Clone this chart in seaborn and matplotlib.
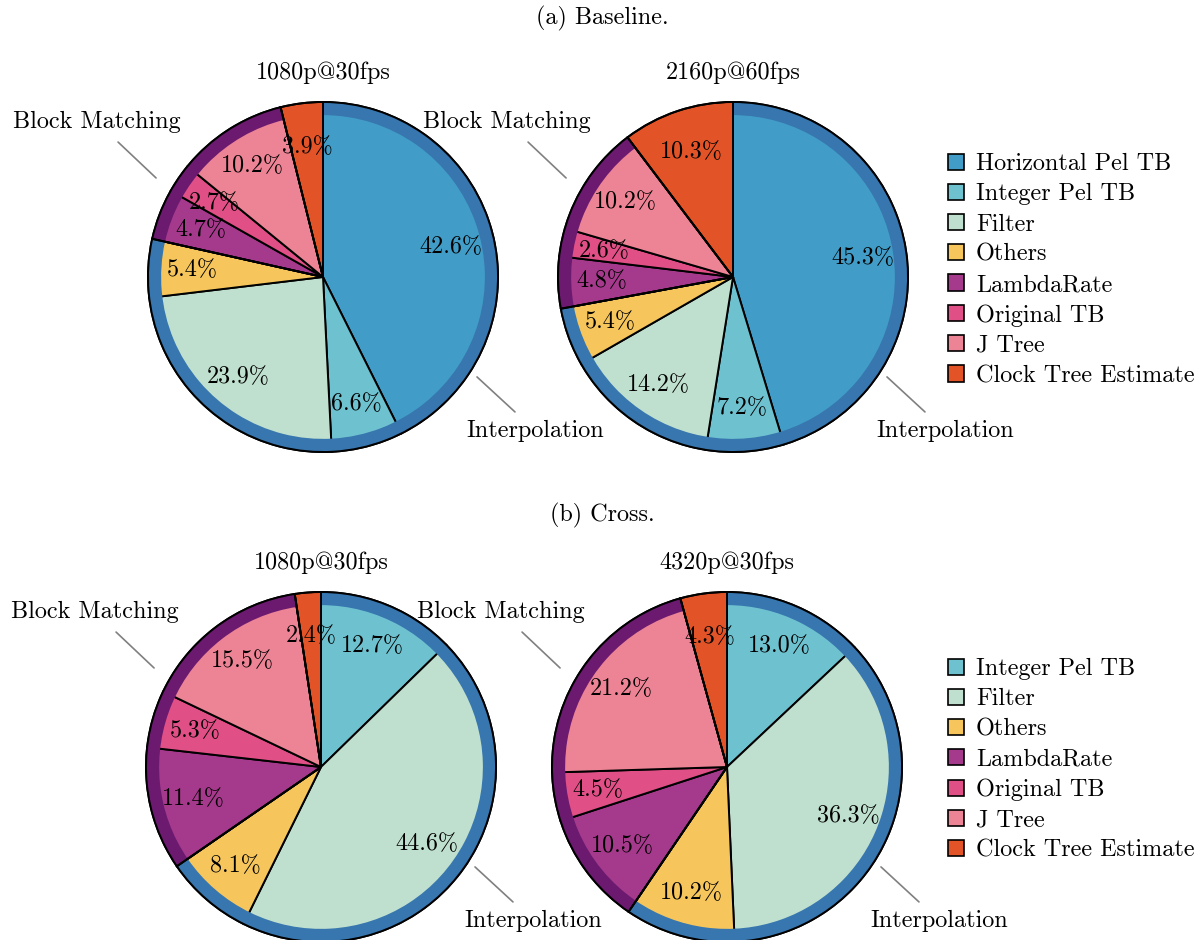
import numpy as np
import matplotlib
matplotlib.use("Agg")
import matplotlib.pyplot as plt
from matplotlib.patches import Patch
import seaborn as sns

# Stage names and their fill colours
categories = ["Horizontal Pel TB", "Integer Pel TB", "Filter", "Others",
              "LambdaRate", "Original TB", "J Tree", "Clock Tree Estimate"]
category_colors = ["#419dc8", "#6ec2d0", "#c0e0cf", "#f6c65c",
                   "#a5398b", "#e04f85", "#ed8495", "#e25428"]

# Outer ring groups
interpolation_members = ["Horizontal Pel TB", "Integer Pel TB", "Filter", "Others"]
block_matching_members = ["LambdaRate", "Original TB", "J Tree"]
ring_colors = {"Interpolation": "#3776ae", "Block Matching": "#6b1a6f"}

# (a) Baseline
baseline_categories = categories
baseline_1080p30 = [42.6, 6.6, 23.9, 5.4, 4.7, 2.7, 10.2, 3.9]
baseline_2160p60 = [45.3, 7.2, 14.2, 5.4, 4.8, 2.6, 10.2, 10.3]

# (b) Cross
cross_categories = categories[1:]
cross_1080p30 = [12.7, 44.6, 8.1, 11.4, 5.3, 15.5, 2.4]
cross_4320p30 = [13.0, 36.3, 10.2, 10.5, 4.5, 21.2, 4.3]

sns.set_theme(style="white")
plt.rcParams["font.family"] = ["cmr10", "DejaVu Serif"]
plt.rcParams["axes.formatter.use_mathtext"] = True
plt.rcParams["mathtext.fontset"] = "cm"
plt.rcParams["text.color"] = "black"

FS = 17.4
W, H = 1204, 940
R_PX = 175
fig = plt.figure(figsize=(W / 100, H / 100), dpi=100)
color_of = dict(zip(categories, category_colors))


def make_axes(cx, cy):
    half = 1.5 * R_PX
    return fig.add_axes([(cx - half) / W, (H - cy - half) / H, 2 * half / W, 2 * half / H])


def draw_pie(ax, cats, vals, title):
    vals = np.asarray(vals, dtype=float)
    cols = [color_of[c] for c in cats]
    # inner slices
    ax.pie(vals, colors=cols, startangle=90, counterclock=False, radius=1.0,
           autopct="%.1f%%", pctdistance=0.75,
           textprops=dict(fontsize=FS, color="black"),
           wedgeprops=dict(edgecolor="black", linewidth=1.4))
    # grouped outer ring
    interp = vals[[cats.index(c) for c in cats if c in interpolation_members]].sum()
    bm = vals[[cats.index(c) for c in cats if c in block_matching_members]].sum()
    rest = vals.sum() - interp - bm
    ring_vals = [interp, bm, rest]
    ax.pie(ring_vals, colors=[ring_colors["Interpolation"], ring_colors["Block Matching"], "none"],
           startangle=90, counterclock=False, radius=1.0,
           wedgeprops=dict(width=0.075, edgecolor="none", linewidth=0))
    ax.pie(ring_vals, colors=["none"] * 3, startangle=90, counterclock=False, radius=1.0,
           wedgeprops=dict(fill=False, edgecolor="black", linewidth=1.4))
    # group callouts
    ax.plot([-0.954, -1.171], [0.566, 0.771], color="0.5", lw=1.2, clip_on=False)
    ax.text(-1.29, 0.886, "Block Matching", ha="center", va="center", fontsize=FS)
    ax.plot([0.88, 1.097], [-0.571, -0.771], color="0.5", lw=1.2, clip_on=False)
    ax.text(1.21, -0.88, "Interpolation", ha="center", va="center", fontsize=FS)
    ax.text(0, 1.17, title, ha="center", va="center", fontsize=FS)
    ax.set_xlim(-1.5, 1.5)
    ax.set_ylim(-1.5, 1.5)
    ax.set_aspect("equal")
    ax.axis("off")


draw_pie(make_axes(323, 277), baseline_categories, baseline_1080p30, "1080p@30fps")
draw_pie(make_axes(733, 277), baseline_categories, baseline_2160p60, "2160p@60fps")
draw_pie(make_axes(321, 767), cross_categories, cross_1080p30, "1080p@30fps")
draw_pie(make_axes(727, 767), cross_categories, cross_4320p30, "4320p@30fps")

fig.text(0.5, 1 - 18 / H, "(a) Baseline.", ha="center", va="center", fontsize=FS)
fig.text(0.5, 1 - 515 / H, "(b) Cross.", ha="center", va="center", fontsize=FS)


def add_legend(cats, x_px, y_px):
    handles = [Patch(facecolor=color_of[c], edgecolor="black", linewidth=1.2, label=c) for c in cats]
    fig.legend(handles=handles, loc="upper left", bbox_to_anchor=(x_px / W, 1 - y_px / H),
               frameon=False, fontsize=FS, handlelength=0.65, handleheight=0.65,
               handletextpad=0.5, labelspacing=0.335, borderpad=0, borderaxespad=0)


add_legend(baseline_categories, 948, 153)
add_legend(cross_categories, 948, 658)

fig.savefig("out.png", dpi=100)
